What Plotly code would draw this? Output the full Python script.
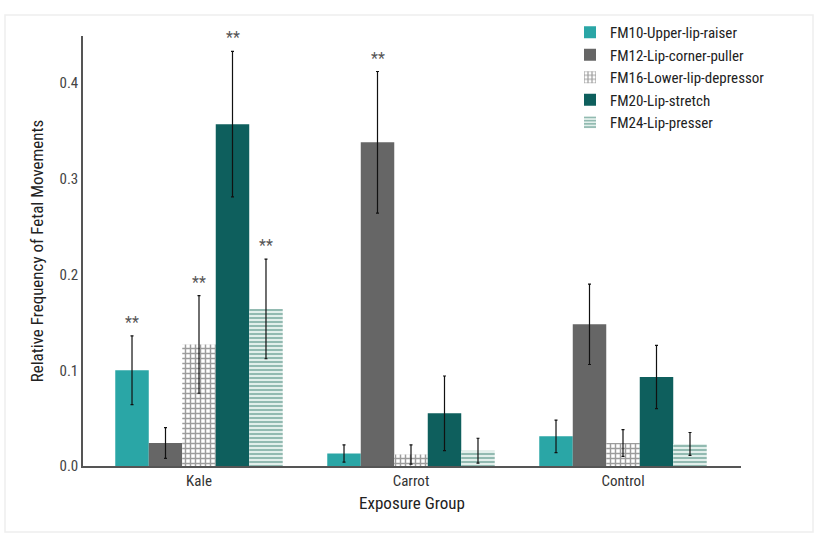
import plotly.graph_objects as go

groups = ["Kale", "Carrot", "Control"]
series = ["FM10-Upper-lip-raiser", "FM12-Lip-corner-puller", "FM16-Lower-lip-depressor",
          "FM20-Lip-stretch", "FM24-Lip-presser"]
fm10 = [0.100, 0.013, 0.031]
fm10_err = [0.036, 0.009, 0.017]
fm12 = [0.024, 0.338, 0.148]
fm12_err = [0.016, 0.074, 0.042]
fm16 = [0.127, 0.012, 0.024]
fm16_err = [0.051, 0.010, 0.014]
fm20 = [0.357, 0.055, 0.093]
fm20_err = [0.076, 0.039, 0.033]
fm24 = [0.164, 0.016, 0.023]
fm24_err = [0.052, 0.013, 0.012]
# significance markers: (series index, group index)
stars = [(0, 0), (2, 0), (3, 0), (4, 0), (1, 1)]

values = [fm10, fm12, fm16, fm20, fm24]
errors = [fm10_err, fm12_err, fm16_err, fm20_err, fm24_err]
styles = [
    dict(color="#2aa6a6"),
    dict(color="#666666"),
    dict(color="white", pattern=dict(shape="+", fgcolor="#3a3a3a", bgcolor="white", size=5, solidity=0.5)),
    dict(color="#0e5f5d"),
    dict(color="#cfe5df", pattern=dict(shape="-", fgcolor="#2f7a6a", bgcolor="#e2efeb", size=4, solidity=0.45)),
]

FONT = "Liberation Sans Narrow, Roboto Condensed, Arial Narrow, Roboto, sans-serif"
xs = list(range(len(groups)))

fig = go.Figure()
for name, v, e, st in zip(series, values, errors, styles):
    fig.add_trace(go.Bar(
        x=xs, y=v, name=name,
        marker=dict(line=dict(width=0), **st),
        error_y=dict(type="data", array=e, color="#111111", thickness=1.2, width=1.5),
    ))

nser = len(series)
bw = (1 - 0.21) / nser
for si, gi in stars:
    xpos = gi - (1 - 0.21) / 2 + bw * (si + 0.5)
    ytop = values[si][gi] + errors[si][gi]
    fig.add_annotation(x=xpos, y=ytop, text="**", showarrow=False, yanchor="bottom", yshift=2,
                       font=dict(size=16, color="#555555", family=FONT))

# light page frame
L, R, T, B = 83, 741, 36, 466
def px(xp):
    return (xp - L) / (R - L)
def py(yp):
    return (B - yp) / (B - T)
fig.add_shape(type="rect", xref="paper", yref="paper", x0=px(5), x1=px(813), y0=py(532), y1=py(15),
              line=dict(color="#eeeeee", width=1.5), layer="below")

fig.update_layout(
    width=823, height=544,
    margin=dict(l=L, r=823 - R, t=T, b=544 - B),
    paper_bgcolor="white", plot_bgcolor="white",
    barmode="group", bargap=0.21, bargroupgap=0,
    font=dict(family=FONT, color="#333333", size=15),
    showlegend=True,
    legend=dict(x=px(570), y=py(16), xanchor="left", yanchor="top",
                font=dict(size=15, color="#222222", family=FONT),
                bgcolor="rgba(0,0,0,0)", tracegroupgap=0, itemwidth=30),
    xaxis=dict(range=[(83 - 199) / 212, (741 - 199) / 212], tickvals=xs, ticktext=groups,
               showline=True, linecolor="#555555", linewidth=1.5, showgrid=False, zeroline=False,
               ticks="", tickfont=dict(size=15, color="#333333"),
               title=dict(text="Exposure Group", font=dict(size=17, color="#222222"), standoff=8)),
    yaxis=dict(range=[0, (466 - 36) / 957.5], tickvals=[0, 0.1, 0.2, 0.3, 0.4],
               ticktext=["0.0", "0.1", "0.2", "0.3", "0.4"],
               showline=True, linecolor="#555555", linewidth=1.5, showgrid=False, zeroline=False,
               ticks="", ticklen=0, tickfont=dict(size=15, color="#444444"),
               title=dict(text="Relative Frequency of Fetal Movements", font=dict(size=17, color="#222222"), standoff=12)),
)

fig.write_html("out.html")
